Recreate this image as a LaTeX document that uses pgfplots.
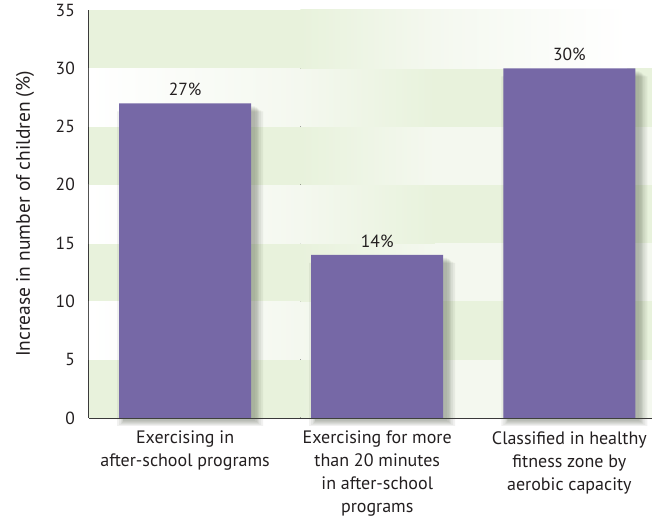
\documentclass[border=0pt]{standalone}
\usepackage{pgfplots}
\pgfplotsset{compat=1.18}
\usepackage{pgfplotstable}
\usepackage{fontspec}
\setmainfont{PT Sans}
\definecolor{barpurple}{HTML}{7668A6}
\definecolor{bandgreen}{HTML}{E8F2DC}
\definecolor{bandlight}{HTML}{F4F8EF}
\definecolor{txt}{HTML}{231F20}
\definecolor{axisgray}{HTML}{3A3A3A}
\definecolor{shadowc}{HTML}{4A5240}

\pgfplotstableread{
x y
0 27
1 14
2 30
}\bars

\begin{document}
\begin{tikzpicture}
\begin{axis}[
  name=ax,
  scale only axis,
  width=563pt, height=408pt,
  xmin=-0.5, xmax=2.43,
  ymin=0, ymax=35,
  ytick={0,5,...,35},
  xtick={0,1,2},
  xticklabels={{Exercising in\\after-school programs},
               {Exercising for more\\than 20 minutes\\in after-school\\programs},
               {Classified in healthy\\fitness zone by\\aerobic capacity}},
  x tick label style={align=center, font=\fontsize{18}{23}\selectfont,
    text=txt, anchor=north, inner sep=0pt, yshift=-13pt},
  y tick label style={font=\fontsize{17.5}{20}\selectfont, text=txt,
    anchor=east, inner sep=0pt, xshift=-14pt},
  /pgf/number format/assume math mode=true,
  major tick length=0pt,
  axis x line*=bottom, axis y line*=left,
  axis line style={-, axisgray, line width=1.1pt},
  clip=false,
  shadowbar/.style={ybar, fill=shadowc, draw=none, opacity=0.08},
]
% background bands
\fill[bandgreen] (axis cs:-0.5,0) rectangle (axis cs:0.6,5);
\fill[left color=bandgreen, right color=bandlight] (axis cs:0.6,0) rectangle (axis cs:1.3,5);
\fill[bandlight] (axis cs:1.3,0) rectangle (axis cs:2.43,5);
\fill[left color=white, right color=bandlight] (axis cs:-0.5,5) rectangle (axis cs:0.6,10);
\fill[left color=bandlight, right color=bandgreen] (axis cs:0.6,5) rectangle (axis cs:1.3,10);
\fill[bandgreen] (axis cs:1.3,5) rectangle (axis cs:2.43,10);
\fill[bandgreen] (axis cs:-0.5,10) rectangle (axis cs:0.6,15);
\fill[left color=bandgreen, right color=bandlight] (axis cs:0.6,10) rectangle (axis cs:1.3,15);
\fill[bandlight] (axis cs:1.3,10) rectangle (axis cs:2.43,15);
\fill[left color=white, right color=bandlight] (axis cs:-0.5,15) rectangle (axis cs:0.6,20);
\fill[left color=bandlight, right color=bandgreen] (axis cs:0.6,15) rectangle (axis cs:1.3,20);
\fill[bandgreen] (axis cs:1.3,15) rectangle (axis cs:2.43,20);
\fill[bandgreen] (axis cs:-0.5,20) rectangle (axis cs:0.6,25);
\fill[left color=bandgreen, right color=bandlight] (axis cs:0.6,20) rectangle (axis cs:1.3,25);
\fill[bandlight] (axis cs:1.3,20) rectangle (axis cs:2.43,25);
\fill[left color=white, right color=bandlight] (axis cs:-0.5,25) rectangle (axis cs:0.6,30);
\fill[left color=bandlight, right color=bandgreen] (axis cs:0.6,25) rectangle (axis cs:1.3,30);
\fill[bandgreen] (axis cs:1.3,25) rectangle (axis cs:2.43,30);
\fill[bandgreen] (axis cs:-0.5,30) rectangle (axis cs:0.6,35);
\fill[left color=bandgreen, right color=bandlight] (axis cs:0.6,30) rectangle (axis cs:1.3,35);
\fill[left color=bandlight, right color=white] (axis cs:1.3,30) rectangle (axis cs:2.3,35);
\fill[white] (axis cs:2.3,30) rectangle (axis cs:2.43,35);

% soft drop shadows
\addplot[shadowbar, bar width=146pt, bar shift=5pt, yshift=-8pt] table {\bars};
\addplot[shadowbar, bar width=142pt, bar shift=5pt, yshift=-7pt] table {\bars};
\addplot[shadowbar, bar width=138pt, bar shift=5pt, yshift=-6pt] table {\bars};
\addplot[shadowbar, bar width=136pt, bar shift=5pt, yshift=-5pt] table {\bars};
\addplot[shadowbar, bar width=134pt, bar shift=5pt, yshift=-4pt] table {\bars};
\addplot[shadowbar, bar width=132pt, bar shift=4pt, yshift=-3pt] table {\bars};

\addplot[ybar, bar width=132pt, fill=barpurple, draw=none,
  nodes near coords={\pgfmathprintnumber{\pgfplotspointmeta}\%},
  every node near coord/.append style={font=\fontsize{17.5}{20}\selectfont,
    text=txt, anchor=south, inner sep=0pt, yshift=7pt}]
  table {\bars};
\end{axis}
\node[rotate=90, font=\fontsize{19.5}{22}\selectfont, text=txt]
  at ([xshift=-64pt]ax.west) {Increase in number of children (\%)};
\path[use as bounding box] ([xshift=-89pt,yshift=-100pt]ax.south west)
  rectangle ([xshift=5pt,yshift=10pt]ax.north east);
\end{tikzpicture}
\end{document}
